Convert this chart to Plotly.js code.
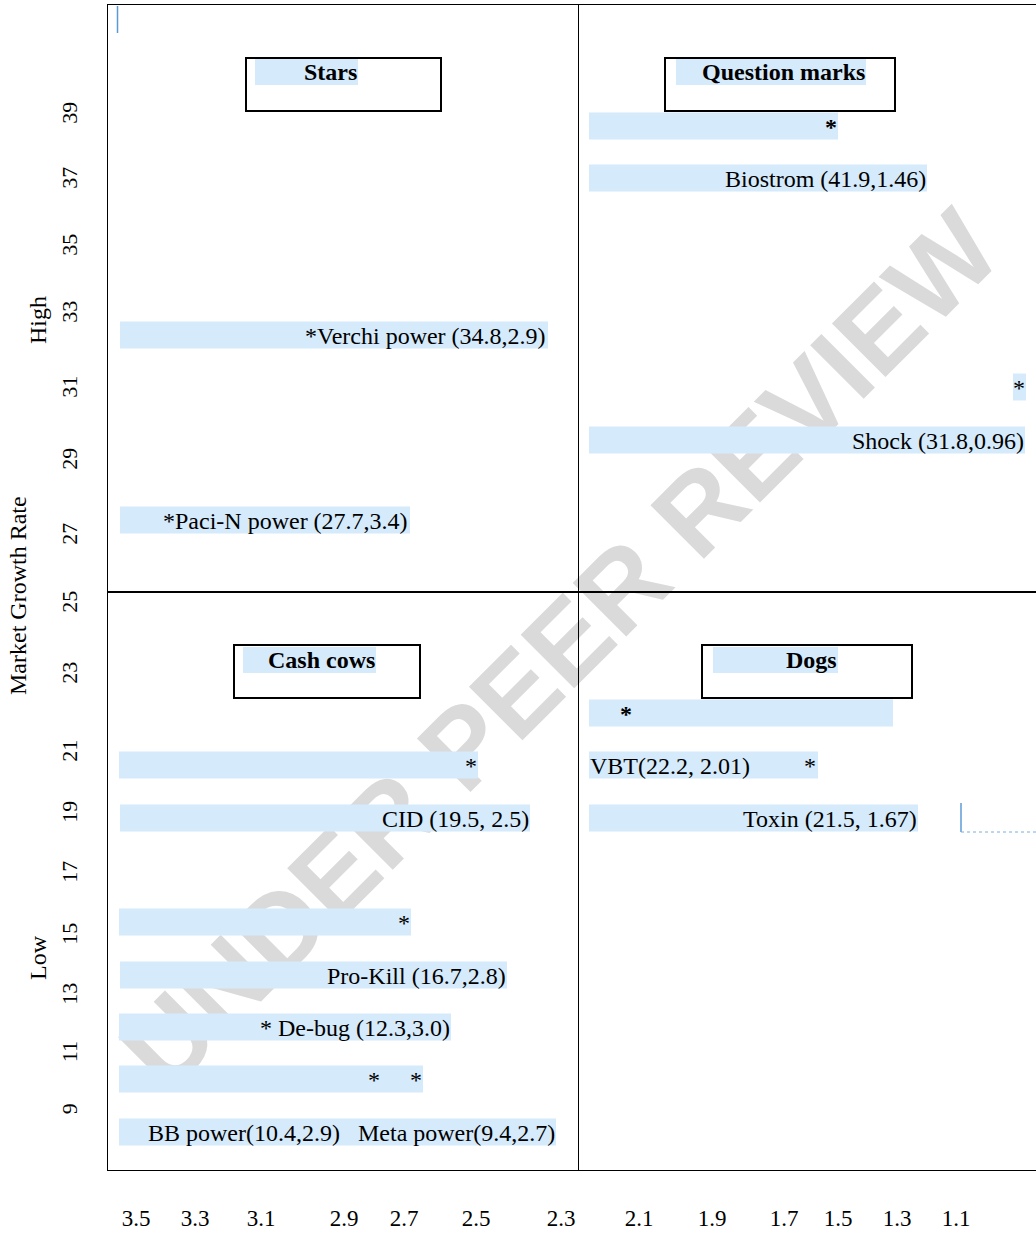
<!DOCTYPE html>
<html><head><meta charset="utf-8">
<script src="https://cdn.plot.ly/plotly-3.0.1.min.js"></script>
<style>html,body{margin:0;padding:0;background:#fff;}#chart{width:1036px;height:1235px;}</style>
</head><body><div id="chart"></div>
<script>
// ---- data / text ----
const xTickLabels = ['3.5','3.3','3.1','2.9','2.7','2.5','2.3','2.1','1.9','1.7','1.5','1.3','1.1'];
const yTickLabels = ['39','37','35','33','31','29','27','25','23','21','19','17','15','13','11','9'];
const quadrantNames = ['Stars','Question marks','Cash cows','Dogs'];
const rowLabels = [
  '*Verchi power (34.8,2.9)', '*Paci-N power (27.7,3.4)',
  '*', 'Biostrom (41.9,1.46)', '*', 'Shock (31.8,0.96)',
  '*', 'VBT(22.2, 2.01)         *', 'Toxin (21.5, 1.67)',
  '*', 'CID (19.5, 2.5)', '*', 'Pro-Kill (16.7,2.8)', '* De-bug (12.3,3.0)', '*     *',
  'BB power(10.4,2.9)   Meta power(9.4,2.7)'
];
const axisTitle = 'Market Growth Rate';
const sideLabels = ['High', 'Low'];
const watermarkText = 'UNDER PEER REVIEW';

// ---- placement (layout coordinates) ----
const xTickPos = [136,195,261,344,404,476,561,639,712,784,838,897,956];
const yTickPos = [116,181,248,315,390,462,537,605,676,754,815,875,937,997,1055,1112];
const rowY  = [335,520, 126,178,387,440, 713,765,818, 765,818,922,975,1027,1079,1132];
const rowX0 = [120,120, 589,589,1013,589, 589,589,589, 119,120,119,120,119,119,119];
const rowX1 = [548,410, 838,927,1026,1025, 893,818,918, 478,530,411,507,451,423,556];
const rowAnchor = ['right','right','right','right','right','right','left','left','right','right','right','right','right','right','right','right'];
const rowTextX = [547,409, 838,927,1026,1025, 619,589,918, 478,530,411,507,451,423,556];
const rowBold = [0,0,1,0,0,0,1,0,0,0,0,0,0,0,0,0];
const titleY = [72,72,660,660];
const titleX0 = [255,676,243,713];
const titleX1 = [358,866,376,838];
const boxX0 = [246,665,234,702], boxX1 = [441,895,420,912];
const boxY0 = [58,58,645,645], boxY1 = [111,111,698,698];

const HL = '#d5eafb';
const FONT = 'Liberation Serif, Times New Roman, serif';
const nb = s => s.replace(/ /g, '\u00a0');

const rowsTrace = {
  type: 'bar', orientation: 'h',
  y: rowY, base: rowX0, x: rowX1.map((v, i) => v - rowX0[i]),
  width: 27, marker: {color: HL, line: {width: 0}}, hoverinfo: 'skip'
};
const titleTrace = {
  type: 'bar', orientation: 'h',
  y: titleY, base: titleX0, x: titleX1.map((v, i) => v - titleX0[i]),
  width: 26, marker: {color: HL, line: {width: 0}}, hoverinfo: 'skip'
};

const L = 108, R = 1036, T = 5, B = 1170;
const px = x => (x - L) / (R - L);
const py = y => (B - y) / (B - T);

const annotations = [];
rowLabels.forEach((t, i) => {
  annotations.push({
    xref: 'x', yref: 'y', x: rowTextX[i], y: rowY[i] + 1,
    xanchor: rowAnchor[i], yanchor: 'middle', showarrow: false, borderpad: 0,
    text: rowBold[i] ? '<b>' + nb(t) + '</b>' : nb(t),
    font: {family: FONT, size: 24, color: '#000'}
  });
});
quadrantNames.forEach((t, i) => {
  annotations.push({
    xref: 'x', yref: 'y', x: titleX1[i], y: titleY[i],
    xanchor: 'right', yanchor: 'middle', showarrow: false, borderpad: 0,
    text: '<b>' + t + '</b>', font: {family: FONT, size: 24, color: '#000'}
  });
});
annotations.push({xref: 'paper', yref: 'paper', x: px(18), y: py(596), text: axisTitle,
  textangle: -90, showarrow: false, xanchor: 'center', yanchor: 'middle',
  font: {family: FONT, size: 24, color: '#000'}});
annotations.push({xref: 'paper', yref: 'paper', x: px(38), y: py(320), text: sideLabels[0],
  textangle: -90, showarrow: false, xanchor: 'center', yanchor: 'middle',
  font: {family: FONT, size: 24, color: '#000'}});
annotations.push({xref: 'paper', yref: 'paper', x: px(38), y: py(958), text: sideLabels[1],
  textangle: -90, showarrow: false, xanchor: 'center', yanchor: 'middle',
  font: {family: FONT, size: 24, color: '#000'}});

const shapes = [];
// watermark (below the highlights)
shapes.push({type: 'line', xref: 'x', yref: 'y', x0: 152, y0: 1042, x1: 952, y1: 242,
  layer: 'below', line: {color: 'rgba(0,0,0,0)', width: 0},
  label: {text: watermarkText, textangle: 'auto', textposition: 'middle', yanchor: 'middle',
    font: {family: 'Liberation Sans, Arial, sans-serif', size: 110, color: '#dadada', weight: 'bold'}}});
// quadrant dividers
shapes.push({type: 'line', xref: 'x', yref: 'y', x0: 578.5, x1: 578.5, y0: T, y1: B, layer: 'above', line: {color: '#000', width: 1}});
shapes.push({type: 'line', xref: 'x', yref: 'y', x0: L, x1: R, y0: 592, y1: 592, layer: 'above', line: {color: '#000', width: 2}});
// quadrant title boxes
quadrantNames.forEach((t, i) => {
  shapes.push({type: 'rect', xref: 'x', yref: 'y', x0: boxX0[i], x1: boxX1[i], y0: boxY0[i], y1: boxY1[i],
    layer: 'above', line: {color: '#000', width: 2}, fillcolor: 'rgba(0,0,0,0)'});
});
// editing marks
shapes.push({type: 'line', xref: 'x', yref: 'y', x0: 117.5, x1: 117.5, y0: 6, y1: 33, layer: 'above', line: {color: '#5b9bd5', width: 1.5}});
shapes.push({type: 'line', xref: 'x', yref: 'y', x0: 961, x1: 961, y0: 803, y1: 832, layer: 'above', line: {color: '#5b9bd5', width: 1.5}});
shapes.push({type: 'line', xref: 'x', yref: 'y', x0: 961, x1: 1036, y0: 832, y1: 832, layer: 'above', line: {color: '#7aaee0', width: 1, dash: 'dot'}});

const layout = {
  width: 1036, height: 1235,
  margin: {l: L, r: 1036 - R, t: T, b: 1235 - B, pad: 0},
  paper_bgcolor: '#fff', plot_bgcolor: '#fff',
  showlegend: false, barmode: 'overlay',
  font: {family: FONT, color: '#000'},
  xaxis: {range: [L, R], autorange: false, showgrid: false, zeroline: false,
    showline: true, mirror: true, linecolor: '#000', linewidth: 1,
    tickmode: 'array', tickvals: xTickPos, ticktext: xTickLabels,
    ticks: 'outside', ticklen: 27, tickcolor: 'rgba(0,0,0,0)',
    tickfont: {family: FONT, size: 23, color: '#000'}},
  yaxis: {range: [B, T], autorange: false, showgrid: false, zeroline: false,
    showline: true, mirror: false, linecolor: '#000', linewidth: 1,
    tickmode: 'array', tickvals: yTickPos, ticktext: yTickLabels, tickangle: -90,
    ticks: 'outside', ticklen: 21, tickcolor: 'rgba(0,0,0,0)',
    tickfont: {family: FONT, size: 22, color: '#000'}},
  shapes: shapes,
  annotations: annotations
};

Plotly.newPlot('chart', [rowsTrace, titleTrace], layout, {staticPlot: true, displayModeBar: false});
</script>
</body></html>
